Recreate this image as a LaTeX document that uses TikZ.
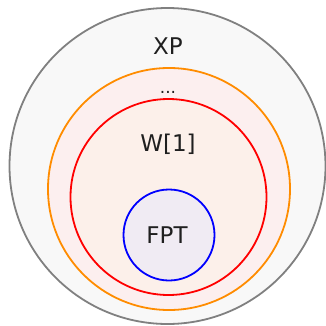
\documentclass[tikz,border=0pt]{standalone}
\usepackage{fontspec}
\setmainfont{DejaVu Sans}
\definecolor{xpfill}{HTML}{F8F8F8}
\definecolor{xpline}{HTML}{808080}
\definecolor{dotsfill}{HTML}{FCEFEF}
\definecolor{dotsline}{HTML}{FF8C00}
\definecolor{wfill}{HTML}{FCF0EA}
\definecolor{wline}{HTML}{FF0000}
\definecolor{fptfill}{HTML}{F0EBF3}
\definecolor{fptline}{HTML}{0000FF}
\begin{document}
\begin{tikzpicture}[x=1pt,y=1pt,
  classset/.style={circle,line width=1.8pt,inner sep=0pt},
  classlabel/.style={font=\fontsize{23}{27}\selectfont,text=black!88,anchor=base,inner sep=0pt}]
\useasboundingbox (0,0) rectangle (326,325);
% nested complexity classes
\node[classset,draw=xpline,fill=xpfill,minimum size=316pt] (xp) at (167.5,159) {};
\node[classset,draw=dotsline,fill=dotsfill,minimum size=242pt] (dots) at (169,136) {};
\node[classset,draw=wline,fill=wfill,minimum size=196pt] (w1) at (168.5,128) {};
\node[classset,draw=fptline,fill=fptfill,minimum size=91pt] (fpt) at (169,90) {};
% class names
\node[classlabel] (xplabel) at (168,271) {XP};
\node[classlabel,font=\fontsize{17}{20}\selectfont] (dotslabel) at (168,232) {...};
\node[classlabel] (w1label) at (168,173.3) {W[1]};
\node[classlabel] (fptlabel) at (167,82) {FPT};
\end{tikzpicture}
\end{document}
